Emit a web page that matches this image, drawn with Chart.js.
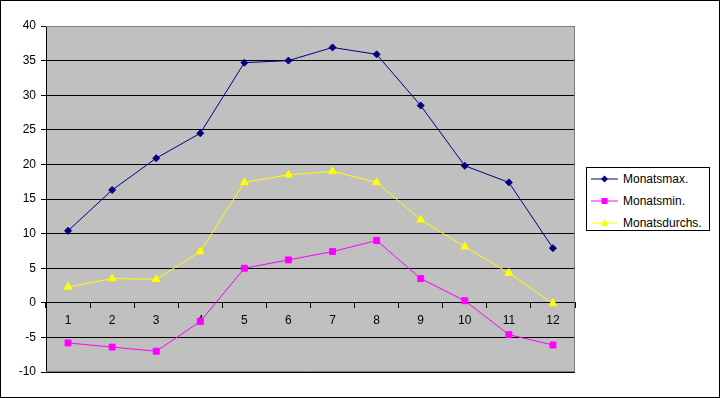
<!DOCTYPE html>
<html>
<head>
<meta charset="utf-8">
<script src="https://cdn.jsdelivr.net/npm/chart.js@4"></script>
<style>
  body { margin: 0; background: #fff; }
  #wrap { position: relative; width: 720px; height: 398px; }
  #frame { position: absolute; left: 0; top: 0; width: 718px; height: 396px; border: 1px solid #000; pointer-events: none; }
  #legend { position: absolute; left: 586px; top: 167px; width: 122px; height: 62px; border: 1px solid #000; background: #fff;
            font: 12px "Liberation Sans", Arial, sans-serif; color: #000; }
  .row { position: absolute; left: 4px; height: 14px; display: flex; align-items: center; }
  .row svg { margin-right: 5px; }
</style>
</head>
<body>
<div id="wrap">
  <canvas id="klimaChart" width="720" height="398"></canvas>
  <div id="legend">
    <div class="row" style="top:4px">
      <svg width="27" height="14"><line x1="0" y1="7" x2="27" y2="7" stroke="#000080" stroke-width="1"/><polygon points="13.5,3.5 17,7 13.5,10.5 10,7" fill="#000080"/></svg>Monatsmax.
    </div>
    <div class="row" style="top:26px">
      <svg width="27" height="14"><line x1="0" y1="7" x2="27" y2="7" stroke="#FF00FF" stroke-width="1"/><rect x="10.5" y="4" width="6" height="6" fill="#FF00FF"/></svg>Monatsmin.
    </div>
    <div class="row" style="top:48px">
      <svg width="27" height="14"><line x1="0" y1="7" x2="27" y2="7" stroke="#FFFF00" stroke-width="1"/><polygon points="13.5,3 17.5,10 9.5,10" fill="#FFFF00"/></svg>Monatsdurchs.
    </div>
  </div>
  <div id="frame"></div>
</div>
<script>
    const months = ['1', '2', '3', '4', '5', '6', '7', '8', '9', '10', '11', '12'];
    const monatsMax = [10.4, 16.3, 20.9, 24.5, 34.7, 35.0, 36.9, 35.9, 28.5, 19.8, 17.4, 7.9];
    const monatsMin = [-5.8, -6.4, -7.0, -2.7, 5.0, 6.2, 7.4, 9.0, 3.5, 0.3, -4.6, -6.1];
    const monatsDurchs = [2.3, 3.5, 3.4, 7.4, 17.4, 18.5, 19.0, 17.4, 12.0, 8.1, 4.3, -0.1];

    // grey plot area behind, grey frame on top
    const plotArea = {
        id: 'plotArea',
        beforeDraw(chart) {
            const { ctx, chartArea: a } = chart;
            ctx.save();
            ctx.fillStyle = '#C0C0C0';
            ctx.fillRect(a.left, a.top, a.right - a.left, a.bottom - a.top);
            ctx.restore();
        },
        afterDatasetsDraw(chart) {
            const { ctx, chartArea: a } = chart;
            ctx.save();
            ctx.strokeStyle = '#808080';
            ctx.lineWidth = 1;
            ctx.beginPath();
            ctx.moveTo(a.left, a.top + 0.5);
            ctx.lineTo(a.right - 0.5, a.top + 0.5);
            ctx.lineTo(a.right - 0.5, a.bottom - 0.5);
            ctx.lineTo(a.left, a.bottom - 0.5);
            ctx.stroke();
            ctx.restore();
        }
    };

    const ctx = document.getElementById('klimaChart').getContext('2d');
    const klimaChart = new Chart(ctx, {
        type: 'line',
        data: {
            labels: months,
            datasets: [{
                label: 'Monatsmax.',
                data: monatsMax,
                borderColor: '#000080',
                backgroundColor: '#000080',
                borderWidth: 1,
                pointStyle: 'rectRot',
                pointRadius: 3.5,
                tension: 0
            }, {
                label: 'Monatsmin.',
                data: monatsMin,
                borderColor: '#FF00FF',
                backgroundColor: '#FF00FF',
                borderWidth: 1,
                pointStyle: 'rect',
                pointRadius: 4.2,
                tension: 0
            }, {
                label: 'Monatsdurchs.',
                data: monatsDurchs,
                borderColor: '#FFFF00',
                backgroundColor: '#FFFF00',
                borderWidth: 1,
                pointStyle: 'triangle',
                pointRadius: 4.5,
                tension: 0
            }]
        },
        options: {
            responsive: false,
            animation: false,
            layout: {
                padding: { left: 0, top: 26, right: 145, bottom: 26 }
            },
            scales: {
                x: {
                    type: 'category',
                    offset: true,
                    position: { y: 0 },
                    grid: {
                        drawOnChartArea: false,
                        drawTicks: true,
                        tickLength: 5,
                        color: '#000',
                        offset: true
                    },
                    border: { color: '#000', width: 1 },
                    ticks: {
                        color: '#000',
                        padding: 6,
                        maxRotation: 0,
                        font: { family: '"Liberation Sans", Arial, sans-serif', size: 12 }
                    }
                },
                y: {
                    min: -10,
                    max: 40,
                    afterFit(scale) { scale.width = 46; },
                    ticks: {
                        stepSize: 5,
                        color: '#000',
                        padding: 5,
                        font: { family: '"Liberation Sans", Arial, sans-serif', size: 12 }
                    },
                    grid: {
                        color: '#000',
                        tickLength: 5
                    },
                    border: { color: '#000', width: 1 }
                }
            },
            plugins: {
                legend: { display: false },
                tooltip: { enabled: false }
            }
        },
        plugins: [plotArea]
    });
</script>
</body>
</html>
